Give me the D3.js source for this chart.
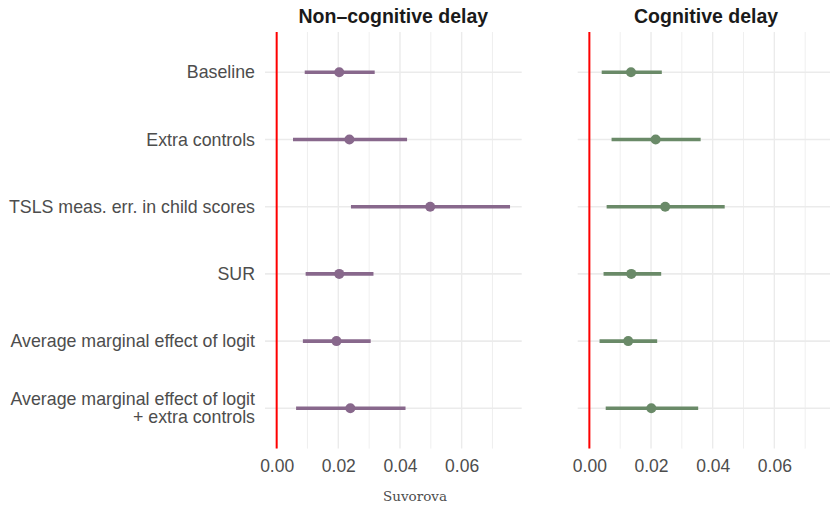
<!DOCTYPE html>
<html>
<head>
<meta charset="utf-8">
<script src="https://cdn.jsdelivr.net/npm/d3@7"></script>
<style>
  body { margin: 0; background: #fff; }
  svg { display: block; }
</style>
</head>
<body>
<svg id="chart" width="830" height="505"></svg>
<script>
// Estimates with confidence intervals, one row per specification
const specifications = [
  "Baseline",
  "Extra controls",
  "TSLS meas. err. in child scores",
  "SUR",
  "Average marginal effect of logit",
  "Average marginal effect of logit\n+ extra controls"
];
const panels = ["Non\u2013cognitive delay", "Cognitive delay"];
const panelColors = ["#88688C", "#6A8A68"];

const nonCogEstimate = [0.0203, 0.0236, 0.0498, 0.0203, 0.0194, 0.0239];
const nonCogLower    = [0.0091, 0.0053, 0.0241, 0.0094, 0.0085, 0.0063];
const nonCogUpper    = [0.0318, 0.0423, 0.0757, 0.0314, 0.0305, 0.0418];

const cogEstimate = [0.0135, 0.0215, 0.0246, 0.0136, 0.0126, 0.0201];
const cogLower    = [0.0040, 0.0072, 0.0056, 0.0046, 0.0033, 0.0053];
const cogUpper    = [0.0235, 0.0361, 0.0439, 0.0233, 0.0220, 0.0353];

const xTicks = [0, 0.02, 0.04, 0.06];
const xMinorTicks = [0.01, 0.03, 0.05, 0.07];
const captionText = "Suvorova";

const panelData = [
  { title: panels[0], color: panelColors[0], est: nonCogEstimate, lo: nonCogLower, hi: nonCogUpper },
  { title: panels[1], color: panelColors[1], est: cogEstimate, lo: cogLower, hi: cogUpper }
];

const svg = d3.select("#chart");
const panelWidth = 256.7;
const panelLefts = [265, 577.7];
const plotTop = 32, plotBottom = 448.6;

// Shared x domain: 0 reference line plus all intervals, expanded 5% each side
const allVals = [0].concat(nonCogLower, nonCogUpper, cogLower, cogUpper);
const ext = d3.extent(allVals);
const pad = (ext[1] - ext[0]) * 0.05;

const y = d3.scalePoint().domain(specifications).range([plotTop, plotBottom]).padding(0.6);

const font = "'Liberation Sans', Arial, sans-serif";

// Row labels
const labels = svg.append("g");
specifications.forEach(s => {
  const lines = s.split("\n");
  const lh = 18.3;
  const t = labels.append("text")
    .attr("x", 255)
    .attr("y", y(s) - (lines.length - 1) * lh / 2)
    .attr("text-anchor", "end")
    .attr("dominant-baseline", "central")
    .attr("font-family", font)
    .attr("font-size", 17.8)
    .attr("fill", "#4D4D4D");
  lines.forEach((ln, i) => {
    t.append("tspan").attr("x", 255).attr("dy", i === 0 ? 0 : lh).text(ln);
  });
});

panelData.forEach((p, pi) => {
  const x0 = panelLefts[pi];
  const x = d3.scaleLinear().domain([ext[0] - pad, ext[1] + pad]).range([x0, x0 + panelWidth]);
  const g = svg.append("g");

  // grid
  g.selectAll(".minor").data(xMinorTicks).join("line")
    .attr("x1", d => x(d)).attr("x2", d => x(d))
    .attr("y1", plotTop).attr("y2", plotBottom)
    .attr("stroke", "#EBEBEB").attr("stroke-width", 0.8);
  g.selectAll(".major").data(xTicks).join("line")
    .attr("x1", d => x(d)).attr("x2", d => x(d))
    .attr("y1", plotTop).attr("y2", plotBottom)
    .attr("stroke", "#EBEBEB").attr("stroke-width", 1.4);
  g.selectAll(".hgrid").data(specifications).join("line")
    .attr("x1", x0).attr("x2", x0 + panelWidth)
    .attr("y1", d => y(d)).attr("y2", d => y(d))
    .attr("stroke", "#EBEBEB").attr("stroke-width", 1.6);

  // x-axis tick labels
  const axis = d3.axisBottom(x).tickValues(xTicks).tickSize(0).tickPadding(0)
    .tickFormat(d3.format(".2f"));
  const ax = g.append("g").attr("transform", `translate(0,${plotBottom})`).call(axis);
  ax.select(".domain").remove();
  ax.selectAll("text")
    .attr("dy", null)
    .attr("y", 23)
    .attr("font-family", font)
    .attr("font-size", 17.5)
    .attr("fill", "#4D4D4D");

  // zero reference line
  g.append("line")
    .attr("x1", x(0)).attr("x2", x(0))
    .attr("y1", plotTop).attr("y2", plotBottom)
    .attr("stroke", "#FF0000").attr("stroke-width", 2);

  // intervals
  g.selectAll(".ci").data(specifications).join("line")
    .attr("x1", (d, i) => x(p.lo[i])).attr("x2", (d, i) => x(p.hi[i]))
    .attr("y1", d => y(d)).attr("y2", d => y(d))
    .attr("stroke", p.color).attr("stroke-width", 3.6);
  g.selectAll(".pt").data(specifications).join("circle")
    .attr("cx", (d, i) => x(p.est[i])).attr("cy", d => y(d))
    .attr("r", 5).attr("fill", p.color);

  // panel title
  g.append("text")
    .attr("x", x0 + panelWidth / 2).attr("y", 23)
    .attr("text-anchor", "middle")
    .attr("font-family", font)
    .attr("font-weight", "bold")
    .attr("font-size", 19.5)
    .attr("fill", "#1A1A1A")
    .text(p.title);
});

svg.append("text")
  .attr("x", 415).attr("y", 501)
  .attr("text-anchor", "middle")
  .attr("font-family", "'DejaVu Serif', serif")
  .attr("font-size", 13.5)
  .attr("fill", "#4D4D4D")
  .text(captionText);
</script>
</body>
</html>
